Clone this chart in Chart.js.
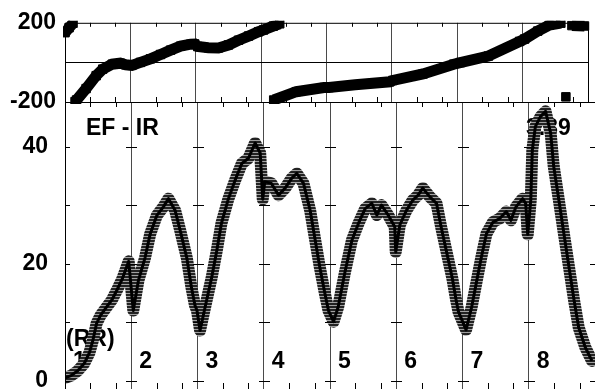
<!DOCTYPE html>
<html>
<head>
<meta charset="utf-8">
<script src="https://cdn.jsdelivr.net/npm/chart.js@4.4.0/dist/chart.umd.min.js"></script>
<style>
  html, body { margin: 0; padding: 0; background: #fff; }
  #wrap { position: relative; width: 595px; height: 389px; overflow: hidden; }
  #wrap canvas { position: absolute; left: 0; top: 0; }
</style>
</head>
<body>
<div id="wrap">
  <canvas id="bottom" width="595" height="440"></canvas>
  <canvas id="top" width="595" height="140"></canvas>
</div>
<script>
// beats (RR intervals) along the x axis, each one segLength long
const segLength = 1.3;
const segLabels = ["1", "2", "3", "4", "5", "6", "7", "8"];
const minorTicks = [0.5, 1.0];

// EF - IR curve
const efTime = [
  0.00, 0.12, 0.25, 0.38, 0.48, 0.55, 0.62, 0.70, 0.80, 0.92, 1.02, 1.12, 1.20, 1.25,
  1.34, 1.44, 1.57, 1.67, 1.80, 1.93, 2.03, 2.16, 2.26, 2.39, 2.48, 2.55, 2.59,
  2.65, 2.75, 2.88, 2.98, 3.07, 3.20, 3.34, 3.47, 3.60, 3.73, 3.83, 3.88,
  3.92, 4.05, 4.19, 4.32, 4.45, 4.55, 4.68, 4.81, 4.91, 5.00, 5.10, 5.17,
  5.27, 5.36, 5.49, 5.63, 5.76, 5.89, 6.02, 6.12, 6.21, 6.34, 6.47, 6.49,
  6.57, 6.70, 6.83, 6.93, 7.02, 7.16, 7.29, 7.38, 7.50, 7.60, 7.67, 7.72,
  7.87, 7.98, 8.08, 8.17, 8.27, 8.40, 8.53, 8.66, 8.75, 8.85, 8.98, 9.04, 9.08,
  9.14, 9.17, 9.23, 9.33, 9.43, 9.53, 9.59, 9.69, 9.79, 9.89, 9.99, 10.08, 10.21, 10.34
];
const efValue = [
  0.5, 0.9, 1.7, 3.0, 4.8, 7.0, 9.8, 11.2, 12.4, 13.8, 15.5, 17.3, 19.2, 20.4,
  12.0, 17.1, 21.0, 25.0, 28.2, 29.7, 31.1, 29.1, 25.7, 21.0, 16.0, 12.9, 12.0,
  8.6, 12.6, 17.7, 22.3, 26.9, 30.9, 34.3, 37.1, 38.0, 40.6, 38.9, 31.0,
  34.0, 33.7, 31.7, 32.9, 34.6, 35.4, 33.7, 29.1, 24.0, 19.4, 14.9, 12.0,
  10.1, 12.6, 18.4, 24.0, 26.9, 29.4, 30.3, 28.3, 30.0, 28.3, 26.3, 22.0,
  26.6, 29.1, 30.9, 31.7, 32.9, 31.4, 30.3, 26.3, 21.5, 17.5, 14.0, 11.8,
  8.7, 12.6, 17.1, 21.1, 25.1, 27.1, 27.7, 28.9, 27.4, 29.7, 31.1, 30.3, 25.0,
  30.9, 39.4, 43.4, 45.1, 46.0, 42.3, 36.6, 30.9, 25.1, 19.4, 13.7, 9.1, 5.7, 3.4
];

// phase curve (null = wrap around +-200)
const phaseTime = [
  0.00, 0.08, 0.16, 0.18, 0.20, 0.23, 0.42, 0.62, 0.75, 0.94, 1.10, 1.21,
  1.33, 1.50, 1.70, 1.90, 2.10, 2.30, 2.50, 2.58,
  2.64, 2.85, 3.05, 3.25, 3.45, 3.65, 3.85,
  3.95, 4.14, 4.27, 4.27, 4.15, 4.60, 5.15,
  5.25, 5.77, 6.46,
  6.52, 7.12, 7.73,
  7.86, 8.42, 9.04,
  9.14, 9.40, 9.63, 9.86, 9.90, 9.96, 10.00, 10.08, 10.20, 10.33
];
const phaseValue = [
  150, 175, 198, null, -198, -190, -132, -67, -34, -9, -4, -12,
  -15, 0, 18, 40, 62, 82, 92, 93,
  80, 74, 73, 88, 112, 133, 155,
  164, 183, 195, null, -190, -148, -127,
  -127, -113, -98,
  -91, -58, -9,
  -1, 32, 106,
  118, 158, 188, 198, null, -174, null, 186, 185, 184
];

const efTickMarks = [0, 10, 20, 30, 40];
const efTickLabels = [0, 20, 40];
const phaseTickLabels = [-200, 200];

const titleText = "EF - IR";
const peakText = "3.39";
const rrText = "(RR)";

const boundaries = [];
for (let i = 0; i <= segLabels.length; i++) boundaries.push(+(i * segLength).toFixed(2));
const minorX = [];
segLabels.forEach((s, i) => minorTicks.forEach(m => minorX.push(i * segLength + m)));

const fontFamily = '"Liberation Sans", Arial, sans-serif';
const boldFont = "bold 23px " + fontFamily;

// horizontal dashes, like a stack of "+" markers
function stripes() {
  const c = document.createElement("canvas");
  c.width = 4;
  c.height = 3;
  const g = c.getContext("2d");
  g.fillStyle = "#222";
  g.fillRect(0, 0, 4, 2);
  g.fillStyle = "#a0a0a0";
  g.fillRect(0, 2, 4, 1);
  return g.createPattern(c, "repeat");
}

function xScale() {
  return {
    type: "linear",
    min: 0,
    max: segLength * segLabels.length,
    afterBuildTicks: (s) => { s.ticks = boundaries.map(v => ({ value: v })); },
    afterFit: (s) => { s.height = 0; },
    ticks: { display: false },
    grid: { color: "#4a4a4a", lineWidth: 1, drawTicks: false },
    border: { display: false }
  };
}

function frameTicks(tickTop, tickBottom, yMarks) {
  return {
    id: "frameTicks",
    afterDraw(chart) {
      const { ctx, chartArea: a, scales: { x, y } } = chart;
      ctx.save();
      ctx.strokeStyle = "#000";
      ctx.lineWidth = 1;
      ctx.strokeRect(a.left + 0.5, a.top + 0.5, a.right - a.left, a.bottom - a.top);
      ctx.beginPath();
      minorX.forEach(v => {
        const px = Math.round(x.getPixelForValue(v)) + 0.5;
        ctx.moveTo(px, a.top);
        ctx.lineTo(px, a.top + tickTop);
        ctx.moveTo(px, a.bottom);
        ctx.lineTo(px, a.bottom - tickBottom);
      });
      yMarks.forEach(v => {
        const py = Math.round(y.getPixelForValue(v)) + 0.5;
        ctx.moveTo(a.left, py);
        ctx.lineTo(a.left + 5, py);
        boundaries.slice(1).forEach(b => {
          const px = Math.round(x.getPixelForValue(b));
          ctx.moveTo(px - 5, py);
          ctx.lineTo(px + 6, py);
        });
      });
      ctx.stroke();
      ctx.restore();
    }
  };
}

const annotations = {
  id: "annotations",
  beforeDatasetsDraw(chart) {
    const { ctx, chartArea: a, scales: { x } } = chart;
    ctx.save();
    ctx.font = boldFont;
    ctx.fillStyle = "#000";
    ctx.textAlign = "left";
    ctx.textBaseline = "alphabetic";
    ctx.fillText(titleText, a.left + 21, 135);
    ctx.fillText(peakText, 526, 135);
    ctx.fillText(rrText, a.left + 1, 346);
    segLabels.forEach((lab, i) => {
      ctx.fillText(lab, x.getPixelForValue(i * segLength) + 8, 368);
    });
    ctx.restore();
  }
};

// nudge layout padding until the plot area sits where the panel should be
function fitArea(chart, top, bottom) {
  for (let k = 0; k < 5; k++) {
    const a = chart.chartArea;
    const dTop = top - a.top;
    const dBottom = a.bottom - bottom;
    if (Math.abs(dTop) < 0.2 && Math.abs(dBottom) < 0.2) break;
    const p = chart.options.layout.padding;
    chart.options.layout.padding = { top: p.top + dTop, right: 0, bottom: p.bottom + dBottom, left: 0 };
    chart.update("none");
  }
}

const tickFont = { family: fontFamily, weight: "bold", size: 23 };

const bottomChart = new Chart(document.getElementById("bottom"), {
  type: "line",
  data: {
    datasets: [
      {
        data: efTime.map((t, i) => ({ x: t, y: efValue[i] })),
        borderColor: "#000",
        borderWidth: 3,
        pointRadius: 0,
        borderJoinStyle: "round"
      },
      {
        data: efTime.map((t, i) => ({ x: t, y: efValue[i] })),
        borderColor: stripes(),
        borderWidth: 12,
        pointRadius: 0,
        borderJoinStyle: "round",
        borderCapStyle: "round"
      }
    ]
  },
  options: {
    responsive: false,
    animation: false,
    layout: { padding: { top: 102, right: 0, bottom: 51, left: 0 } },
    plugins: { legend: { display: false }, tooltip: { enabled: false } },
    scales: {
      x: xScale(),
      y: {
        min: -1.4,
        max: 47.6,
        afterBuildTicks: (s) => { s.ticks = efTickMarks.map(v => ({ value: v })); },
        afterFit: (s) => { s.width = 65; },
        ticks: {
          color: "#000",
          font: tickFont,
          padding: 9,
          callback: (v) => efTickLabels.includes(v) ? String(v) : ""
        },
        grid: { display: false },
        border: { display: false }
      }
    }
  },
  plugins: [annotations, frameTicks(5, 6, efTickMarks)]
});
fitArea(bottomChart, 102, 389);

const topChart = new Chart(document.getElementById("top"), {
  type: "line",
  data: {
    datasets: [
      {
        data: phaseTime.map((t, i) => ({ x: t, y: phaseValue[i] })),
        borderColor: "#000",
        backgroundColor: "#000",
        borderWidth: 11,
        pointStyle: "rect",
        pointRadius: 6,
        pointBorderWidth: 1,
        spanGaps: false,
        clip: 2
      }
    ]
  },
  options: {
    responsive: false,
    animation: false,
    layout: { padding: { top: 21, right: 0, bottom: 38, left: 0 } },
    plugins: { legend: { display: false }, tooltip: { enabled: false } },
    scales: {
      x: xScale(),
      y: {
        min: -200,
        max: 200,
        afterBuildTicks: (s) => { s.ticks = [-200, 0, 200].map(v => ({ value: v })); },
        afterFit: (s) => { s.width = 65; },
        ticks: {
          color: "#000",
          font: tickFont,
          padding: 9,
          callback: (v) => phaseTickLabels.includes(v) ? String(v) : ""
        },
        grid: {
          drawTicks: false,
          color: (c) => c.tick && c.tick.value === 0 ? "#000" : "rgba(0,0,0,0)"
        },
        border: { display: false }
      }
    }
  },
  plugins: [frameTicks(4, 5, [])]
});
fitArea(topChart, 21, 102);
</script>
</body>
</html>
